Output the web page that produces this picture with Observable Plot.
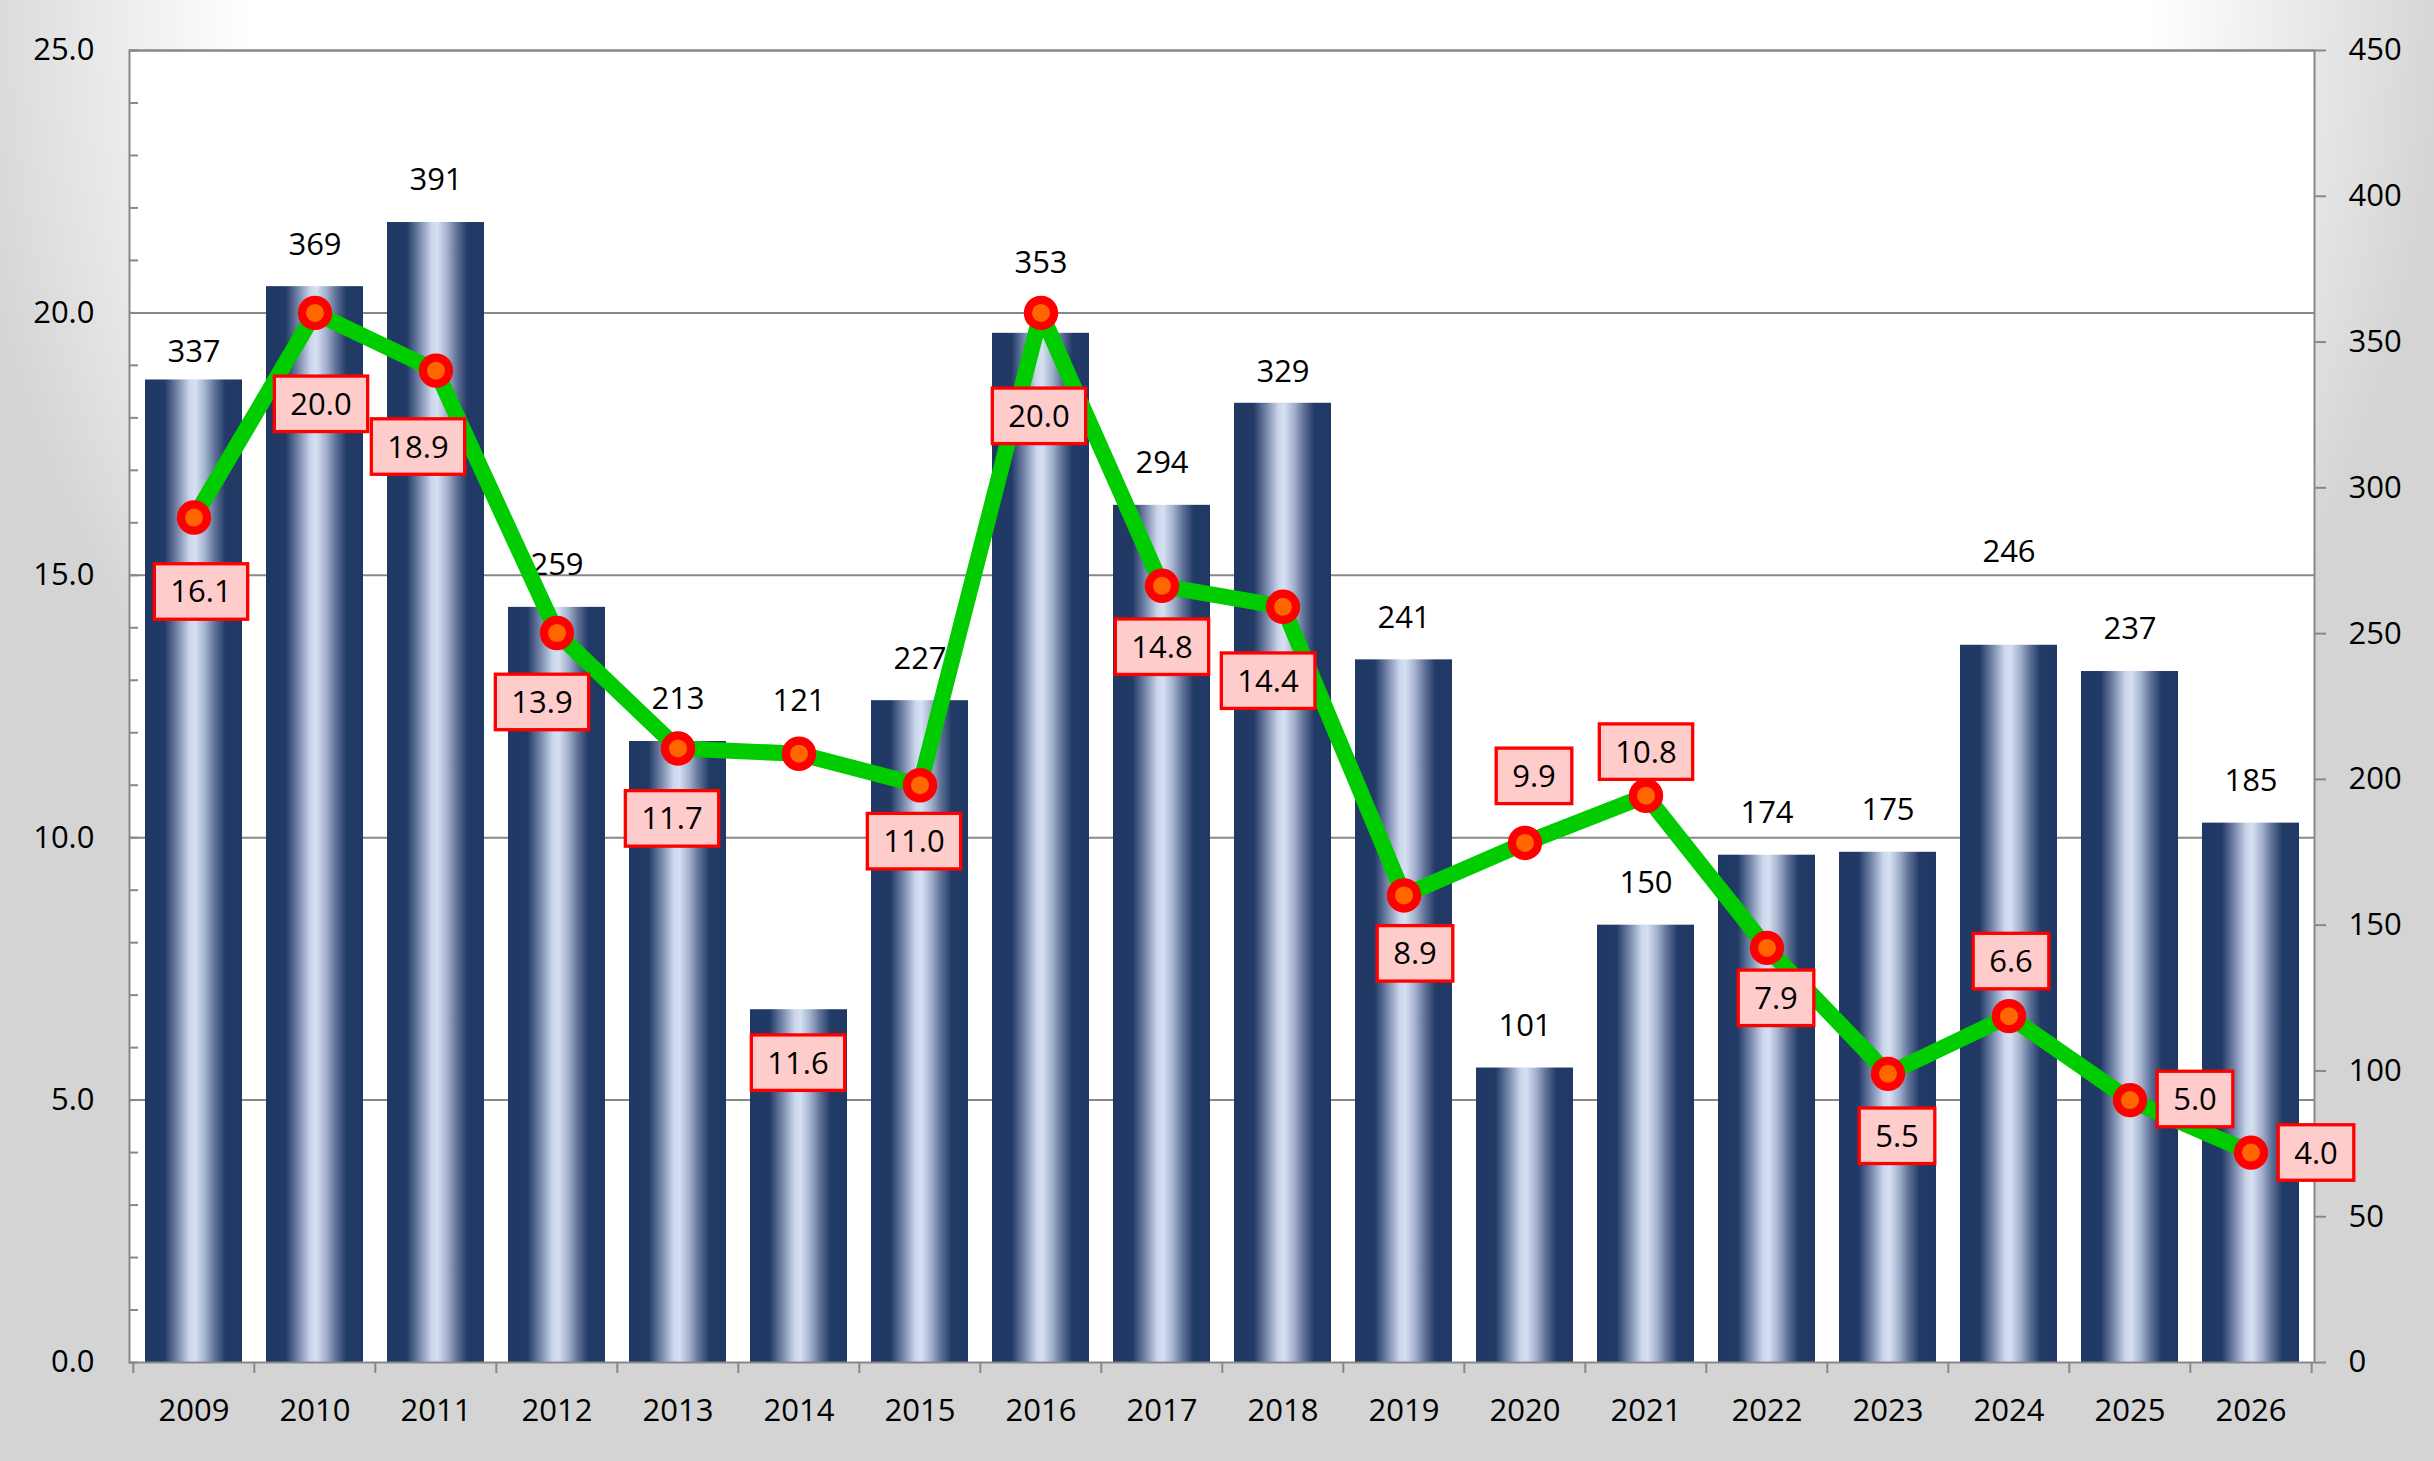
<!DOCTYPE html>
<html>
<head>
<meta charset="utf-8">
<script src="https://cdn.jsdelivr.net/npm/d3@7"></script>
<script src="https://cdn.jsdelivr.net/npm/@observablehq/plot@0.6"></script>
<style>
  html, body { margin: 0; padding: 0; }
  body {
    width: 2434px; height: 1461px; overflow: hidden;
    background-color: #d4d4d4;
    background-image: radial-gradient(circle 1250px at 1200px 0px, #ffffff 0%, #ffffff 76%, #d4d4d4 100%);
    background-repeat: no-repeat;
  }
  svg { display: block; }
</style>
</head>
<body>
<script>
// ---- data ----
const years = ["2009","2010","2011","2012","2013","2014","2015","2016","2017","2018","2019","2020","2021","2022","2023","2024","2025","2026"];
const counts = [337, 369, 391, 259, 213, 121, 227, 353, 294, 329, 241, 101, 150, 174, 175, 246, 237, 185];
const rates = [16.1, 20.0, 18.9, 13.9, 11.7, 11.6, 11.0, 20.0, 14.8, 14.4, 8.9, 9.9, 10.8, 7.9, 5.5, 6.6, 5.0, 4.0];
const leftTicks = [0, 5, 10, 15, 20, 25];
const rightTicks = [0, 50, 100, 150, 200, 250, 300, 350, 400, 450];

// ---- layout / style ----
const W = 2434, H = 1461;
const mL = 129, mR = 120, mT = 50, mB = 99;
const plotW = W - mL - mR;
const step = plotW / years.length;           // band step (inner .2, outer .1)
const leftMax = leftTicks[leftTicks.length - 1];
const rightMax = rightTicks[rightTicks.length - 1];
const k = rightMax / leftMax;                // right axis units per left unit
const FONT = 31;
const axisGray = "#888888";

// label nudges (pixel offsets from the data point), as placed in the original
const barLabelLift = {"2009": 28, "2014": 309, "2016": 70, "2018": 31, "2024": 93};
const rateLabelNudge = {
  "2009": [7, 75], "2010": [6, 92], "2011": [-18, 77], "2012": [-15, 70],
  "2013": [-6, 71], "2014": [-1, 310], "2015": [-6, 57], "2016": [-2, 104],
  "2017": [0, 62], "2018": [-15, 75], "2019": [11, 59], "2020": [9, -66],
  "2021": [0, -43], "2022": [9, 51], "2023": [9, 63], "2024": [2, -54],
  "2025": [65, 0], "2026": [65, 1]
};

const barData = years.map((year, i) => ({year, count: counts[i]}));
const rateData = years.map((year, i) => ({year, rate: rates[i]}));

const chart = Plot.plot({
  width: W, height: H,
  marginLeft: mL, marginRight: mR, marginTop: mT, marginBottom: mB,
  style: {background: "transparent", fontFamily: "'Open Sans', sans-serif", fontSize: FONT + "px", color: "black", overflow: "visible"},
  x: {type: "band", domain: years, paddingInner: 0.2, paddingOuter: 0.1, label: null},
  y: {domain: [0, leftMax], label: null},
  marks: [
    Plot.frame({fill: "white", stroke: null}),
    Plot.ruleY(leftTicks.slice(1), {stroke: axisGray, strokeWidth: 2}),
    Plot.barY(barData, {x: "year", y: d => d.count / k, fill: "url(#barGrad)"}),
    Plot.frame({stroke: axisGray, strokeWidth: 2}),
    // minor ticks on the left axis (inward)
    Plot.tickY(d3.range(0, leftMax + 1), {stroke: axisGray, strokeWidth: 2, insetRight: plotW - 9}),
    // left axis labels
    Plot.axisY(leftTicks, {anchor: "left", tickSize: 0, tickPadding: 35, tickFormat: d3.format(".1f"),
      fontSize: FONT, fill: "black", label: null}),
    // right axis (bar counts)
    Plot.axisY(rightTicks.map(v => v / k), {anchor: "right", tickSize: 11, tickPadding: 23,
      tickFormat: d => String(Math.round(d * k)), stroke: axisGray, strokeWidth: 2,
      fontSize: FONT, fill: "black", label: null}),
    // x labels
    Plot.axisX({tickSize: 0, tickPadding: 36, fontSize: FONT, fill: "black", label: null}),
    // x ticks between categories
    Plot.axisX({tickSize: 11, dx: -step / 2, tickFormat: () => "", stroke: axisGray, strokeWidth: 2, label: null}),
    Plot.axisX([years[years.length - 1]], {tickSize: 11, dx: step / 2, tickFormat: () => "", stroke: axisGray, strokeWidth: 2, label: null}),
    // bar value labels
    barData.map(d => Plot.text([d], {
      x: "year", y: v => v.count / k, text: v => String(v.count),
      dy: -(barLabelLift[d.year] ?? 42), fontSize: FONT, fill: "black", lineAnchor: "middle"
    })),
    // line
    Plot.line(rateData, {x: "year", y: "rate", stroke: "#00cc00", strokeWidth: 16, strokeLinejoin: "round"}),
    Plot.dot(rateData, {x: "year", y: "rate", r: 13.1, fill: "#ff6600", stroke: "#ff0000", strokeWidth: 8.2}),
    // rate labels (boxes added after layout)
    rateData.map(d => Plot.text([d], {
      x: "year", y: "rate", text: v => v.rate.toFixed(1),
      dx: rateLabelNudge[d.year][0], dy: rateLabelNudge[d.year][1],
      fontSize: FONT, fill: "black", lineAnchor: "middle"
    }))
  ]
});

// gradient for the bars
const svg = d3.select(chart);
const defs = svg.insert("defs", ":first-child");
const grad = defs.append("linearGradient").attr("id", "barGrad")
  .attr("x1", 0).attr("x2", 1).attr("y1", 0).attr("y2", 0);
[
  [0, "#203864"], [0.2, "#213965"], [0.33, "#7384a8"], [0.46, "#ccd7ec"],
  [0.52, "#d6e0f2"], [0.62, "#a3b1cd"], [0.72, "#5f7197"], [0.83, "#223a66"], [1, "#203864"]
].forEach(([o, c]) => grad.append("stop").attr("offset", o).attr("stop-color", c));

document.body.append(chart);

// boxes behind rate labels: the last text marks are the rate labels
const textMarks = Array.from(chart.querySelectorAll('g[aria-label="text"]'));
const rateMarks = textMarks.slice(textMarks.length - rateData.length);
rateMarks.forEach(gEl => {
  gEl.querySelectorAll("text").forEach(t => {
    const b = t.getBBox();
    const cy = b.y + b.height / 2 + 1;
    const bw = b.width + 32, bh = 55.5;
    const r = d3.select(t.parentNode).insert("rect", () => t)
      .attr("x", b.x + b.width / 2 - bw / 2).attr("y", cy - bh / 2)
      .attr("width", bw).attr("height", bh)
      .attr("fill", "#ffcccc").attr("stroke", "#ff0000").attr("stroke-width", 3.3);
    const tr = t.getAttribute("transform");
    if (tr) r.attr("transform", tr);
  });
});
</script>
</body>
</html>
